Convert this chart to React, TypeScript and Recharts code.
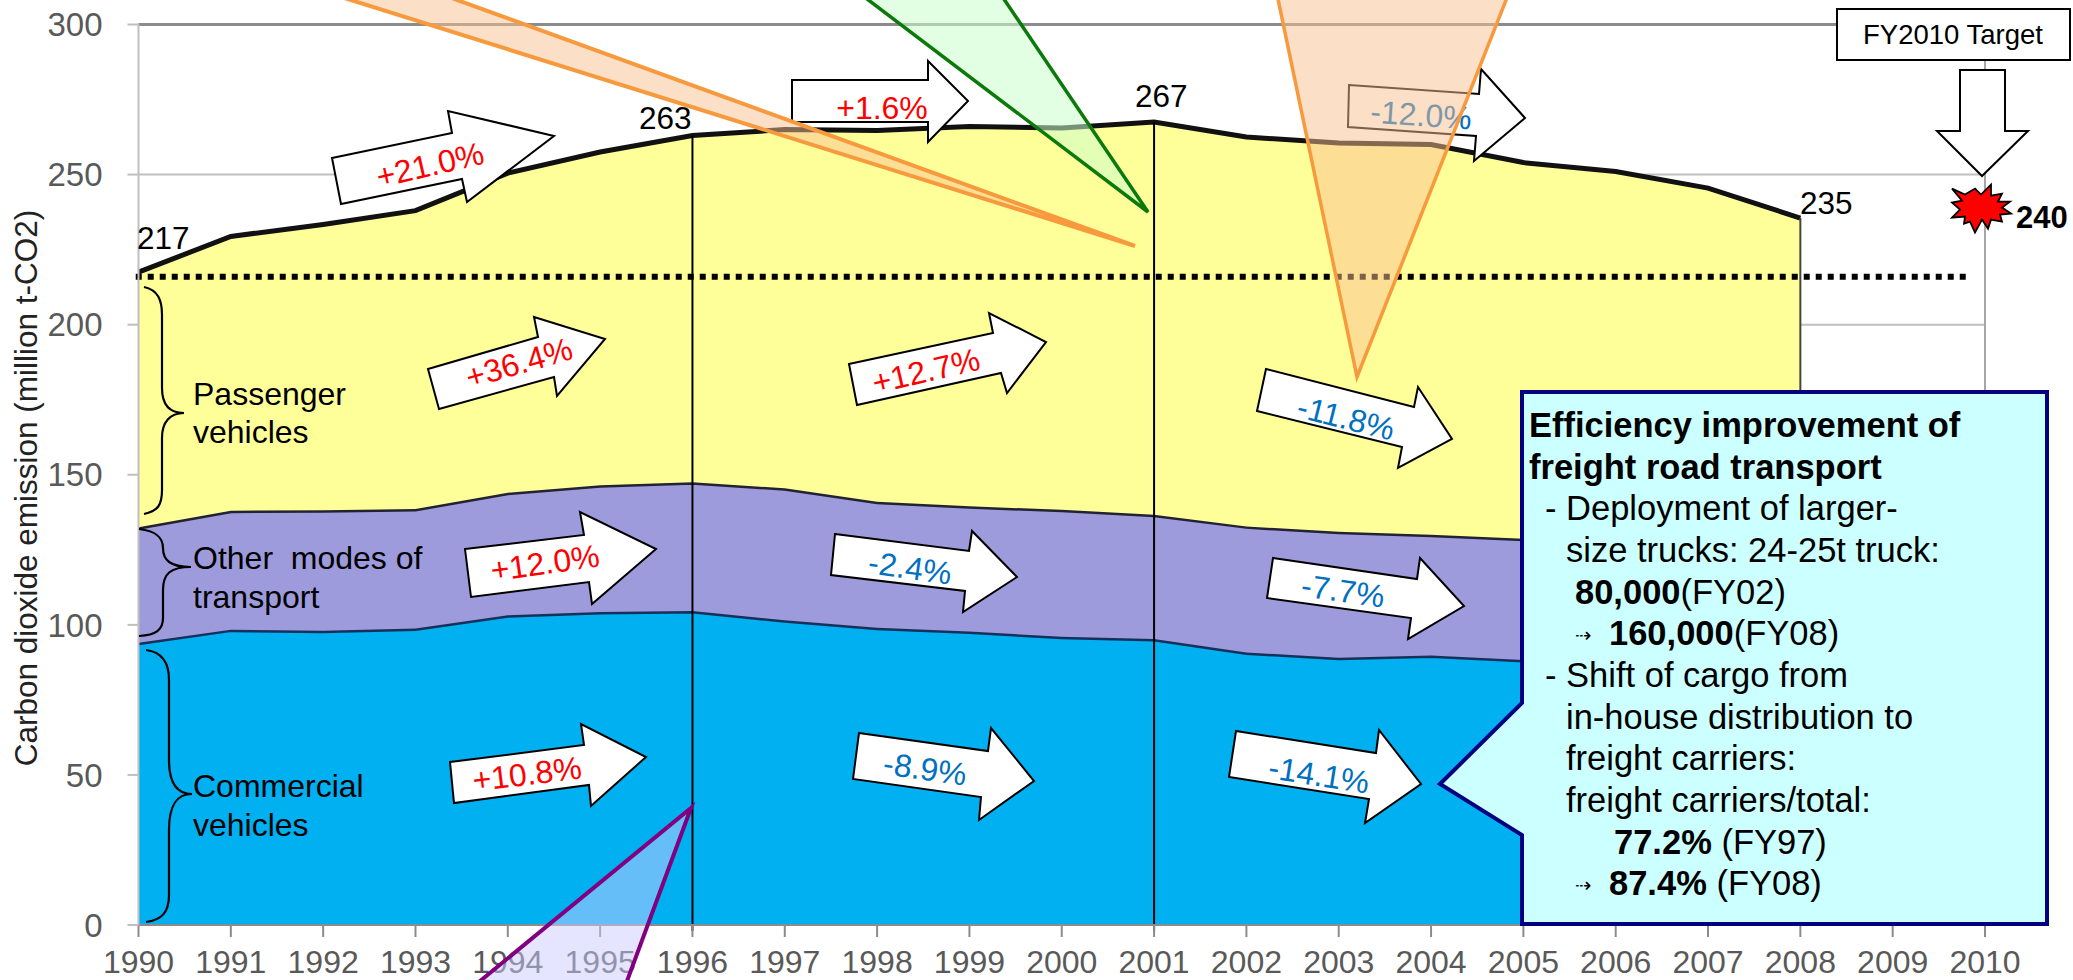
import React from "react";
import {
  ComposedChart,
  Area,
  Scatter,
  XAxis,
  YAxis,
  CartesianGrid,
  ReferenceLine,
} from "recharts";

const years = [1990, 1991, 1992, 1993, 1994, 1995, 1996, 1997, 1998, 1999, 2000, 2001, 2002, 2003, 2004, 2005, 2006, 2007, 2008];
const commercial = [94, 98.4, 98, 98.8, 103.2, 104.3, 104.6, 101.5, 99, 97.8, 96, 95.3, 90.8, 89, 89.8, 88.3, 88, 86.5, 84];
const otherModes = [38.5, 39.6, 40.2, 39.8, 40.8, 42.2, 42.9, 44, 42, 41.7, 42.3, 41.4, 42, 42, 40.2, 40.4, 39, 38.5, 37];
const passenger = [85, 91.4, 95.2, 99.4, 106.5, 111, 115.5, 119.5, 123.7, 126.5, 127.2, 130.8, 129.7, 129.5, 130, 125.3, 124, 120.5, 114.5];
const xTicks = [1990, 1991, 1992, 1993, 1994, 1995, 1996, 1997, 1998, 1999, 2000, 2001, 2002, 2003, 2004, 2005, 2006, 2007, 2008, 2009, 2010];
const yTicks = [0, 50, 100, 150, 200, 250, 300];
const target = [{ year: 2010, value: 240 }];

const chartData = years.map((year, i) => ({
  year,
  commercial: commercial[i],
  other: otherModes[i],
  passenger: passenger[i],
}));

const RED = "#FF0000";
const BLUE = "#0070C0";
const FONT = "'Liberation Sans', Arial, sans-serif";

// block arrows drawn over the areas: outline, label, label position, label angle
const arrows = [
  { pts: "332,158 452,133 448,111 554,136 467,202 462,179 341,204", text: "+21.0%", c: RED, x: 430, y: 165, a: -13 },
  { pts: "792,80 928,80 928,61 968,101 928,142 928,122 792,122", text: "+1.6%", c: RED, x: 882, y: 108, a: 0 },
  { pts: "1349,85 1479,94 1481,69 1525,118 1474,161 1476,136 1348,127", text: "-12.0%", c: BLUE, x: 1421, y: 115, a: 4 },
  { pts: "428,369 538,337 534,317 605,339 557,396 554,377 439,409", text: "+36.4%", c: RED, x: 519, y: 363, a: -16 },
  { pts: "849,364 993,333 989,313 1046,342 1007,393 1001,373 857,405", text: "+12.7%", c: RED, x: 926, y: 371, a: -13 },
  { pts: "1266,369 1414,407 1418,387 1452,439 1398,468 1402,447 1257,411", text: "-11.8%", c: BLUE, x: 1346, y: 418, a: 14 },
  { pts: "465,549 584,535 580,512 656,549 592,604 589,582 471,597", text: "+12.0%", c: RED, x: 545, y: 563, a: -8 },
  { pts: "835,534 969,551 972,531 1017,577 963,612 965,591 831,575", text: "-2.4%", c: BLUE, x: 910, y: 568, a: 8 },
  { pts: "1273,558 1417,579 1420,558 1464,606 1408,639 1411,618 1267,598", text: "-7.7%", c: BLUE, x: 1343, y: 591, a: 8 },
  { pts: "450,762 584,745 581,724 646,757 591,806 589,785 454,803", text: "+10.8%", c: RED, x: 527, y: 774, a: -7 },
  { pts: "859,733 988,751 991,728 1034,781 979,820 981,797 853,779", text: "-8.9%", c: BLUE, x: 925, y: 769, a: 8 },
  { pts: "1236,731 1376,753 1379,730 1421,784 1365,823 1369,799 1229,777", text: "-14.1%", c: BLUE, x: 1319, y: 775, a: 9 },
];

// pointer wedges coming from off-page notes
const wedges = [
  { pts: "287,-20 402,-20 1135,246", fill: "#FAC090", op: 0.5, stroke: "#F79A3E", w: 4 },
  { pts: "842,-20 991,-20 1148,212", fill: "#CCFFCC", op: 0.55, stroke: "#0B7A0B", w: 3.5 },
  { pts: "1274,-20 1514,-20 1357,377", fill: "#FAC090", op: 0.5, stroke: "#F79A3E", w: 3.5 },
  { pts: "457,1000 620,1000 691,808", fill: "#CCCCFF", op: 0.5, stroke: "#800080", w: 4 },
];

const valueLabels = [
  { text: "217", x: 137, y: 249 },
  { text: "263", x: 639, y: 129 },
  { text: "267", x: 1135, y: 107 },
  { text: "235", x: 1800, y: 214 },
];

const groupLabels = [
  { text: "Passenger", y: 405 },
  { text: "vehicles", y: 443 },
  { text: "Other  modes of", y: 569 },
  { text: "transport", y: 608 },
  { text: "Commercial", y: 797 },
  { text: "vehicles", y: 836 },
];

const braces = [
  "M144,287 C158,290 162,300 162,315 L162,388 C162,405 170,413 184,413 C170,413 162,422 162,438 L162,490 C162,505 158,511 144,514",
  "M139,529 C156,531 163,537 163,548 C163,560 170,567 191,567 C170,567 163,574 163,590 L163,618 C163,630 156,635 139,636",
  "M146,650 C162,652 169,662 169,680 L169,760 C169,782 176,794 192,794 C176,794 169,806 169,830 L169,895 C169,912 162,920 146,922",
];

// callout text: runs are [text, bold]
const calloutLines: { x: number; y: number; runs: [string, boolean][] }[] = [
  { x: 1529, y: 437, runs: [["Efficiency improvement of", true]] },
  { x: 1529, y: 479, runs: [["freight road transport", true]] },
  { x: 1545, y: 520, runs: [["- Deployment of larger-", false]] },
  { x: 1566, y: 562, runs: [["size trucks: 24-25t truck:", false]] },
  { x: 1575, y: 604, runs: [["80,000", true], ["(FY02)", false]] },
  { x: 1609, y: 645, runs: [["160,000", true], ["(FY08)", false]] },
  { x: 1545, y: 687, runs: [["- Shift of cargo from", false]] },
  { x: 1566, y: 729, runs: [["in-house distribution to", false]] },
  { x: 1566, y: 770, runs: [["freight carriers:", false]] },
  { x: 1566, y: 812, runs: [["freight carriers/total:", false]] },
  { x: 1614, y: 854, runs: [["77.2%", true], [" (FY97)", false]] },
  { x: 1609, y: 895, runs: [["87.4%", true], [" (FY08)", false]] },
];

// outline of the target burst, offsets from the burst centre
const burst = [
  [-29, -19], [-16, -13], [-6, -19], [0, -13], [10, -23], [10, -12], [21, -14], [17, -6], [29, -6], [21, 0],
  [30, 6], [19, 7], [21, 14], [10, 12], [7, 21], [1, 12], [-6, 25], [-11, 14], [-17, 16], [-16, 9],
  [-29, 10], [-21, 2], [-29, -5], [-19, -7],
];

function TargetStar(props: any) {
  const { cx, cy } = props;
  const pts = burst.map(([dx, dy]) => `${cx - 4 + dx},${cy + 3 + dy}`).join(" ");
  return (
    <g>
      <polygon points={pts} fill="#FF0000" stroke="#000" strokeWidth={1.8} strokeLinejoin="miter" />
      <text x={cx + 31} y={cy + 23} fontFamily={FONT} fontSize={31} fontWeight="bold" fill="#000">
        240
      </text>
    </g>
  );
}

function Overlay() {
  return (
    <svg
      width={2073}
      height={980}
      style={{ position: "absolute", left: 0, top: 0, pointerEvents: "none" }}
      fontFamily={FONT}
    >
      <text
        transform="translate(37 488) rotate(-90)"
        textAnchor="middle"
        fontSize={31.5}
        fill="#222"
      >
        Carbon dioxide emission (million t-CO2)
      </text>

      {braces.map((d, i) => (
        <path key={i} d={d} fill="none" stroke="#000" strokeWidth={2.2} />
      ))}
      {groupLabels.map((l, i) => (
        <text key={i} x={193} y={l.y} fontSize={32} fill="#000" xmlSpace="preserve">
          {l.text}
        </text>
      ))}
      {valueLabels.map((l) => (
        <text key={l.text} x={l.x} y={l.y} fontSize={31.5} fill="#000">
          {l.text}
        </text>
      ))}

      {arrows.map((a) => (
        <g key={a.text}>
          <polygon points={a.pts} fill="#fff" stroke="#000" strokeWidth={2} />
          <text
            x={a.x}
            y={a.y}
            fontSize={32}
            fill={a.c}
            textAnchor="middle"
            dominantBaseline="central"
            transform={`rotate(${a.a} ${a.x} ${a.y})`}
          >
            {a.text}
          </text>
        </g>
      ))}

      {wedges.map((w, i) => (
        <polygon
          key={i}
          points={w.pts}
          fill={w.fill}
          fillOpacity={w.op}
          stroke={w.stroke}
          strokeWidth={w.w}
        />
      ))}

      <rect x={1837} y={9} width={233} height={51} fill="#fff" stroke="#000" strokeWidth={2} />
      <text x={1953} y={44} fontSize={27.5} textAnchor="middle" fill="#000">
        FY2010 Target
      </text>
      <polygon
        points="1960,70 2005,70 2005,131 2028,131 1982,176 1937,131 1960,131"
        fill="#fff"
        stroke="#000"
        strokeWidth={2}
      />

      <polygon
        points="1522,392 2047,392 2047,924 1522,924 1522,835 1440,784 1522,703"
        fill="#CCFFFF"
        stroke="#000080"
        strokeWidth={4}
      />
      {calloutLines.map((l, i) => (
        <text key={i} x={l.x} y={l.y} fontSize={34.5} fill="#000">
          {l.runs.map(([t, b], j) => (
            <tspan key={j} fontWeight={b ? "bold" : "normal"} xmlSpace="preserve">
              {t}
            </tspan>
          ))}
        </text>
      ))}
      <text x={1575} y={642} fontSize={20} fontFamily="'DejaVu Sans'" fill="#000">⇢</text>
      <text x={1575} y={892} fontSize={20} fontFamily="'DejaVu Sans'" fill="#000">⇢</text>
    </svg>
  );
}

export default function App() {
  return (
    <div style={{ position: "absolute", left: 0, top: 0, width: 2073, height: 980, overflow: "hidden", background: "#fff" }}>
      <ComposedChart
        width={2073}
        height={980}
        data={chartData}
        margin={{ top: 24.5, right: 88, bottom: 0, left: 0 }}
      >
        <CartesianGrid vertical={false} stroke="#BFBFBF" strokeWidth={2} />
        <XAxis
          dataKey="year"
          type="number"
          domain={[1990, 2010]}
          ticks={xTicks}
          interval={0}
          height={55}
          tickSize={12}
          tickMargin={13}
          stroke="#8C8C8C"
          strokeWidth={2}
          tick={{ fill: "#595959", fontSize: 32, fontFamily: FONT }}
        />
        <YAxis
          domain={[0, 300]}
          ticks={yTicks}
          width={138.5}
          tickSize={11}
          tickMargin={25}
          stroke="#BFBFBF"
          strokeWidth={2}
          tick={{ fill: "#595959", fontSize: 33, fontFamily: FONT }}
        />
        <Area dataKey="commercial" stackId="a" type="linear" fill="#00B0F0" fillOpacity={1} stroke="#16305C" strokeWidth={5} isAnimationActive={false} />
        <Area dataKey="other" stackId="a" type="linear" fill="#9E9BDC" fillOpacity={1} stroke="#222233" strokeWidth={5} isAnimationActive={false} />
        <Area dataKey="passenger" stackId="a" type="linear" fill="#FFFF99" fillOpacity={1} stroke="#111111" strokeWidth={5} isAnimationActive={false} />
        <ReferenceLine y={300} stroke="#8C8C8C" strokeWidth={3} ifOverflow="visible" />
        <ReferenceLine x={2010} stroke="#A6A6A6" strokeWidth={2} ifOverflow="visible" />
        <ReferenceLine segment={[{ x: 2008, y: 0 }, { x: 2008, y: 235.5 }]} stroke="#444" strokeWidth={2} ifOverflow="visible" />
        <ReferenceLine segment={[{ x: 1996, y: -2 }, { x: 1996, y: 263 }]} stroke="#000" strokeWidth={2} ifOverflow="visible" />
        <ReferenceLine segment={[{ x: 2001, y: -2 }, { x: 2001, y: 267.5 }]} stroke="#000" strokeWidth={2} ifOverflow="visible" />
        <ReferenceLine segment={[{ x: 1989.97, y: 216 }, { x: 2009.85, y: 216 }]} stroke="#000" strokeWidth={6} strokeDasharray="6 6" ifOverflow="visible" />
        <Scatter data={target} dataKey="value" shape={TargetStar} isAnimationActive={false} />
      </ComposedChart>
      <Overlay />
    </div>
  );
}
